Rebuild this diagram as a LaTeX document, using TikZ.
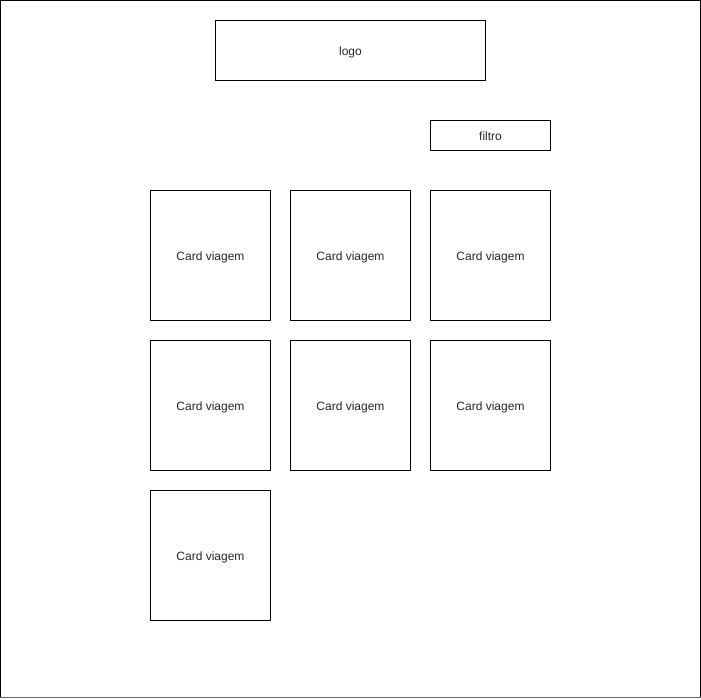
\documentclass[tikz,border=0pt]{standalone}
\usepackage{fontspec}
\setmainfont{Liberation Sans}
\usetikzlibrary{math}

\tikzset{
  box/.style={draw, line width=1pt, inner sep=0pt, anchor=north west,
    text height=10pt, text depth=0pt,
    font=\fontsize{12}{14}\selectfont, text=black!85},
  card/.style={box, minimum width=120pt, minimum height=130pt}
}

\begin{document}
\begin{tikzpicture}[x=1pt, y=-1pt]
\tikzmath{
\cw=140;
\rh=150;
}
\useasboundingbox (0,0) rectangle (701,699);
%page frame
\draw[line width=1pt] (0.5,697.5) -- (0.5,0.5) -- (700.5,0.5) -- (700.5,697.5);
\draw[line width=1.5pt, black!60] (0,697.5) -- (701,697.5);

%header
\node[box, minimum width=270pt, minimum height=60pt] (logo) at (215,20) {logo};
\node[box, minimum width=120pt, minimum height=30pt] (filtro) at (430,120) {filtro};

%cards
\foreach \r/\c in {0/0,0/1,0/2,1/0,1/1,1/2,2/0}{
  \node[card] (card-\r-\c) at (150+\c*\cw,190+\r*\rh) {Card viagem};
}
\end{tikzpicture}
\end{document}
